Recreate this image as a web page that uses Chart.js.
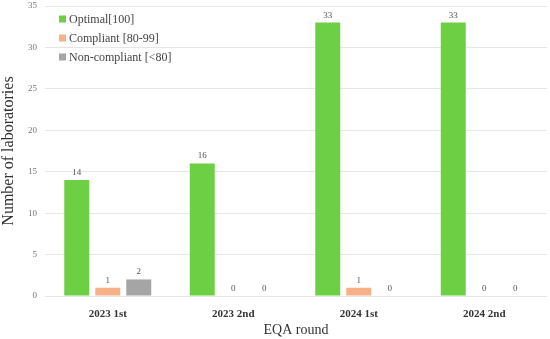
<!DOCTYPE html>
<html>
<head>
<meta charset="utf-8">
<script src="https://cdn.jsdelivr.net/npm/chart.js@4"></script>
<style>
    html, body { margin: 0; padding: 0; background: #ffffff; }
    .chart-box { width: 550px; height: 339px; position: relative; }
</style>
</head>
<body>
<div class="chart-box"><canvas id="eqa-chart"></canvas></div>
<script>
const rounds = ['2023 1st', '2023 2nd', '2024 1st', '2024 2nd'];
const optimal = [14, 16, 33, 33];
const compliant = [1, 0, 1, 0];
const nonCompliant = [2, 0, 0, 0];
const yTicks = [0, 5, 10, 15, 20, 25, 30, 35];

const SERIF = "'Liberation Serif', serif";

//draws the value above every bar, zero values included
const valueLabels = {
    id: 'valueLabels',
    afterDatasetsDraw(chart) {
        const ctx = chart.ctx;
        ctx.save();
        ctx.font = "9px 'Liberation Serif', serif";
        ctx.fillStyle = '#555555';
        ctx.textAlign = 'center';
        ctx.textBaseline = 'alphabetic';
        chart.data.datasets.forEach((ds, i) => {
            chart.getDatasetMeta(i).data.forEach((bar, j) => {
                ctx.fillText(ds.data[j], bar.x, bar.y - 5);
            });
        });
        ctx.restore();
    }
};

//legend sits inside the plot area, top left
const innerLegend = {
    id: 'innerLegend',
    afterDraw(chart) {
        const ctx = chart.ctx;
        const area = chart.chartArea;
        ctx.save();
        ctx.font = "12px 'Liberation Serif', serif";
        ctx.textBaseline = 'middle';
        chart.data.datasets.forEach((ds, i) => {
            const y = area.top + 13 + i * 19;
            const x = area.left + 14;
            ctx.fillStyle = ds.backgroundColor;
            ctx.fillRect(x, y - 3.5, 7, 7);
            ctx.fillStyle = '#444444';
            ctx.fillText(ds.label, x + 10, y + 1);
        });
        ctx.restore();
    }
};

const chartContext = document.getElementById('eqa-chart').getContext('2d');
const eqaChart = new Chart(chartContext, {
    type: 'bar',
    data: {
        labels: rounds,
        datasets: [{
            label: 'Optimal[100]',
            data: optimal,
            backgroundColor: '#6dd044'
        }, {
            label: 'Compliant [80-99]',
            data: compliant,
            backgroundColor: '#f8b186'
        }, {
            label: 'Non-compliant [<80]',
            data: nonCompliant,
            backgroundColor: '#a5a5a5'
        }]
    },
    options: {
        responsive: true,
        maintainAspectRatio: false,
        animation: false,
        categoryPercentage: 0.741,
        barPercentage: 0.806,
        layout: {
            padding: { top: 6, right: 3, left: 0, bottom: 0 }
        },
        scales: {
            x: {
                grid: { display: false, drawTicks: false },
                border: { display: false },
                //fixed height so the zero line lands where the original has it
                afterFit(axis) {
                    axis.height = 43;
                    axis.paddingLeft = 0;
                    axis.paddingRight = 0;
                },
                ticks: {
                    color: '#333333',
                    font: { family: SERIF, size: 11, weight: 'bold' },
                    padding: 12
                },
                title: {
                    display: true,
                    text: 'EQA round',
                    color: '#333333',
                    font: { family: SERIF, size: 14 },
                    padding: { top: 3, bottom: 0 }
                }
            },
            y: {
                min: 0,
                max: 35,
                afterBuildTicks(axis) {
                    axis.ticks = yTicks.map(v => ({ value: v }));
                },
                //drop the extra room chart.js keeps for half a tick label
                afterFit(axis) {
                    axis.width = 45;
                    axis.paddingTop = 0;
                    axis.paddingBottom = 0;
                },
                grid: { color: '#e6e6e6', drawTicks: false },
                border: { display: false },
                ticks: {
                    color: '#777777',
                    font: { family: SERIF, size: 9 },
                    padding: 8
                },
                title: {
                    display: true,
                    text: 'Number of laboratories',
                    color: '#333333',
                    font: { family: SERIF, size: 16 },
                    padding: { top: -1, bottom: 9 }
                }
            }
        },
        plugins: {
            legend: { display: false },
            tooltip: { enabled: false }
        }
    },
    plugins: [valueLabels, innerLegend]
});
</script>
</body>
</html>
